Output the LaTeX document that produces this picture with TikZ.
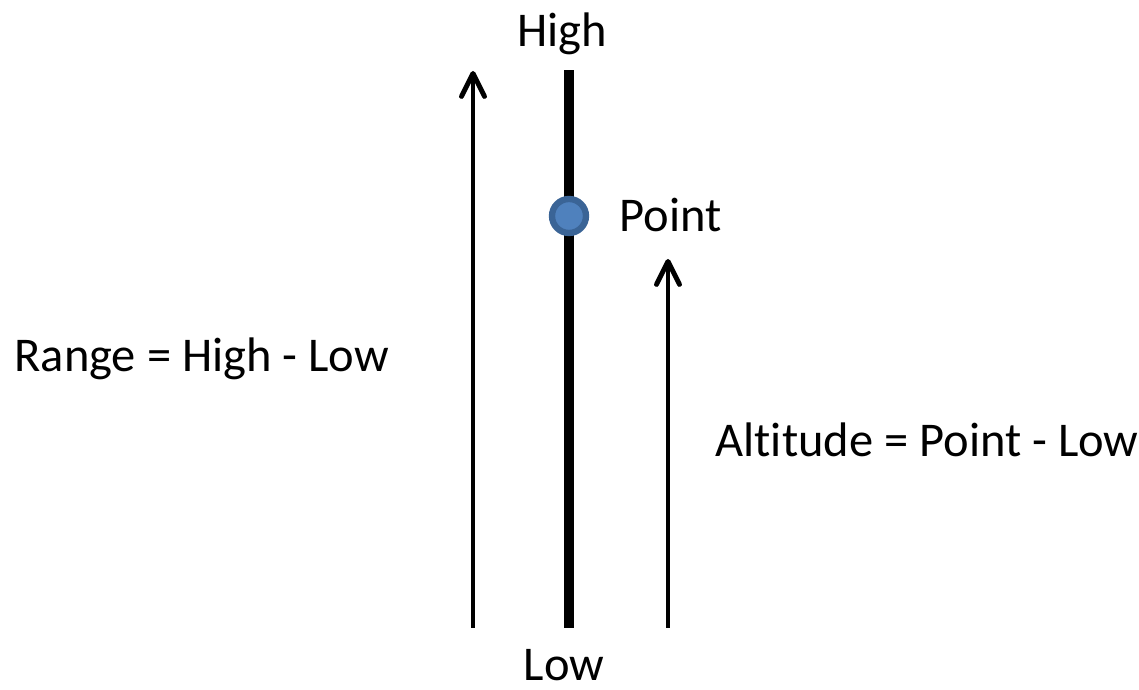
\documentclass[tikz,border=0pt]{standalone}
\usepackage{fontspec}
\setmainfont[Ligatures={NoCommon}]{Carlito}
\usetikzlibrary{arrows.meta}
\definecolor{pointblue}{HTML}{4F81BD}
\definecolor{pointedge}{HTML}{3A6496}

\begin{document}
\begin{tikzpicture}[line width=1.4pt, font=\fontsize{13.8}{16}\selectfont,
    label/.style={inner sep=0pt},
    barb/.style={-{Straight Barb[length=2.3mm,width=2.3mm,line cap=round,line join=round]}}]
    \useasboundingbox (0,0) rectangle (11.39,6.90);

    % the bar from low to high
    \coordinate (Top) at (5.69,6.20);
    \coordinate (Bottom) at (5.69,0.62);
    \draw[line width=2.6pt] (Bottom) -- (Top);

    % range and altitude arrows
    \coordinate (RangeLow) at (4.73,0.62);
    \coordinate (RangeHigh) at (4.73,6.19);
    \coordinate (AltLow) at (6.68,0.62);
    \coordinate (AltHigh) at (6.68,4.31);
    \draw[barb] (RangeLow) -- (RangeHigh);
    \draw[barb] (AltLow) -- (AltHigh);

    % the point
    \filldraw[fill=pointblue, draw=pointedge, line width=1.8pt]
        (5.69,4.74) coordinate (P) circle (0.17);

    \node[label, anchor=base] (high) at (5.62,6.43) {High};
    \node[label, anchor=base] (low) at (5.64,0.09) {Low};
    \node[label, anchor=base west] (point) at (6.17,4.58) {Point};
    \node[label, anchor=base west] (range) at (0.12,3.18) {Range = High - Low};
    \node[label, anchor=base west] (altitude) at (7.13,2.33) {Altitude = Point - Low};
\end{tikzpicture}
\end{document}
